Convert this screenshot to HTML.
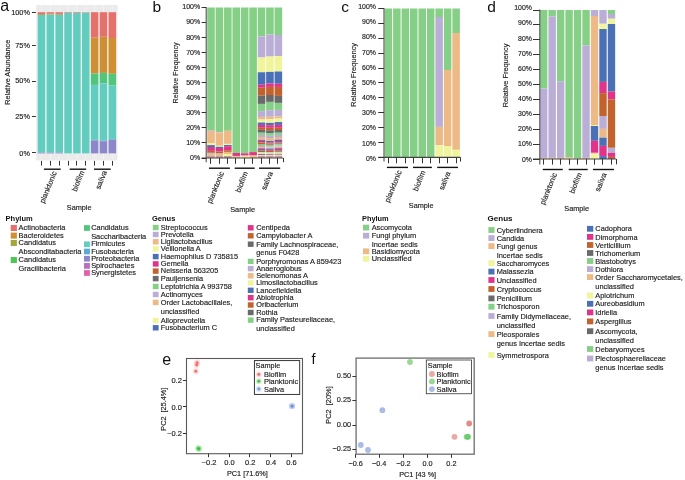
<!DOCTYPE html>
<html><head><meta charset="utf-8"><style>
html,body{margin:0;padding:0;background:#fff;width:685px;height:480px;overflow:hidden}
svg{display:block;filter:blur(0.3px)}
text{font-family:"Liberation Sans", sans-serif;stroke:#222;stroke-width:0.15px} text[font-weight="bold"]{stroke:none}
</style></head><body>
<svg width="685" height="480" viewBox="0 0 685 480">
<rect x="0" y="0" width="685" height="480" fill="#fff"/>
<text x="0.30" y="10.90" font-size="16" text-anchor="start" fill="#111" font-weight="normal" style="stroke:none">a</text>
<rect x="36.25" y="5.00" width="81.25" height="155.40" fill="#EBEBEB" />
<line x1="41.50" y1="5.00" x2="41.50" y2="160.40" stroke="#F8F8F8" stroke-width="0.6"/>
<line x1="50.35" y1="5.00" x2="50.35" y2="160.40" stroke="#F8F8F8" stroke-width="0.6"/>
<line x1="59.20" y1="5.00" x2="59.20" y2="160.40" stroke="#F8F8F8" stroke-width="0.6"/>
<line x1="68.05" y1="5.00" x2="68.05" y2="160.40" stroke="#F8F8F8" stroke-width="0.6"/>
<line x1="76.90" y1="5.00" x2="76.90" y2="160.40" stroke="#F8F8F8" stroke-width="0.6"/>
<line x1="85.75" y1="5.00" x2="85.75" y2="160.40" stroke="#F8F8F8" stroke-width="0.6"/>
<line x1="94.60" y1="5.00" x2="94.60" y2="160.40" stroke="#F8F8F8" stroke-width="0.6"/>
<line x1="103.45" y1="5.00" x2="103.45" y2="160.40" stroke="#F8F8F8" stroke-width="0.6"/>
<line x1="112.30" y1="5.00" x2="112.30" y2="160.40" stroke="#F8F8F8" stroke-width="0.6"/>
<rect x="37.70" y="12.20" width="78.40" height="141.20" fill="#F4FAF9" />
<rect x="37.70" y="12.20" width="7.60" height="1.80" fill="#E5716C" />
<rect x="37.70" y="14.00" width="7.60" height="0.90" fill="#CF8F33" />
<rect x="37.70" y="14.90" width="7.60" height="137.70" fill="#62CCBF" />
<rect x="37.70" y="152.60" width="7.60" height="0.80" fill="#8C87C9" />
<rect x="46.55" y="12.20" width="7.60" height="1.60" fill="#E5716C" />
<rect x="46.55" y="13.80" width="7.60" height="0.80" fill="#CF8F33" />
<rect x="46.55" y="14.60" width="7.60" height="138.00" fill="#62CCBF" />
<rect x="46.55" y="152.60" width="7.60" height="0.80" fill="#8C87C9" />
<rect x="55.40" y="12.20" width="7.60" height="1.70" fill="#E5716C" />
<rect x="55.40" y="13.90" width="7.60" height="0.90" fill="#CF8F33" />
<rect x="55.40" y="14.80" width="7.60" height="137.80" fill="#62CCBF" />
<rect x="55.40" y="152.60" width="7.60" height="0.80" fill="#8C87C9" />
<rect x="64.25" y="12.20" width="7.60" height="0.70" fill="#E5716C" />
<rect x="64.25" y="12.90" width="7.60" height="140.50" fill="#62CCBF" />
<rect x="73.10" y="12.20" width="7.60" height="0.70" fill="#E5716C" />
<rect x="73.10" y="12.90" width="7.60" height="140.50" fill="#62CCBF" />
<rect x="81.95" y="12.20" width="7.60" height="0.50" fill="#E5716C" />
<rect x="81.95" y="12.70" width="7.60" height="140.70" fill="#62CCBF" />
<rect x="90.80" y="12.20" width="7.60" height="25.50" fill="#E5716C" />
<rect x="90.80" y="37.70" width="7.60" height="35.80" fill="#CF8F33" />
<rect x="90.80" y="73.50" width="7.60" height="11.40" fill="#52C47C" />
<rect x="90.80" y="84.90" width="7.60" height="54.90" fill="#62CCBF" />
<rect x="90.80" y="139.80" width="7.60" height="0.60" fill="#5AAAD2" />
<rect x="90.80" y="140.40" width="7.60" height="13.00" fill="#8C87C9" />
<rect x="99.65" y="12.20" width="7.60" height="24.60" fill="#E5716C" />
<rect x="99.65" y="36.80" width="7.60" height="36.10" fill="#CF8F33" />
<rect x="99.65" y="72.90" width="7.60" height="10.40" fill="#52C47C" />
<rect x="99.65" y="83.30" width="7.60" height="57.30" fill="#62CCBF" />
<rect x="99.65" y="140.60" width="7.60" height="0.60" fill="#5AAAD2" />
<rect x="99.65" y="141.20" width="7.60" height="12.20" fill="#8C87C9" />
<rect x="108.50" y="12.20" width="7.60" height="25.80" fill="#E5716C" />
<rect x="108.50" y="38.00" width="7.60" height="35.80" fill="#CF8F33" />
<rect x="108.50" y="73.80" width="7.60" height="11.80" fill="#52C47C" />
<rect x="108.50" y="85.60" width="7.60" height="53.60" fill="#62CCBF" />
<rect x="108.50" y="139.20" width="7.60" height="0.60" fill="#5AAAD2" />
<rect x="108.50" y="139.80" width="7.60" height="13.60" fill="#8C87C9" />
<line x1="32.00" y1="12.50" x2="35.90" y2="12.50" stroke="#333333" stroke-width="1.0"/>
<text x="29.90" y="14.90" font-size="7.3" text-anchor="end" fill="#222" font-weight="normal" >100%</text>
<line x1="32.00" y1="45.50" x2="35.90" y2="45.50" stroke="#333333" stroke-width="1.0"/>
<text x="29.90" y="47.60" font-size="7.3" text-anchor="end" fill="#222" font-weight="normal" >75%</text>
<line x1="32.00" y1="81.50" x2="35.90" y2="81.50" stroke="#333333" stroke-width="1.0"/>
<text x="29.90" y="83.40" font-size="7.3" text-anchor="end" fill="#222" font-weight="normal" >50%</text>
<line x1="32.00" y1="116.50" x2="35.90" y2="116.50" stroke="#333333" stroke-width="1.0"/>
<text x="29.90" y="118.90" font-size="7.3" text-anchor="end" fill="#222" font-weight="normal" >25%</text>
<line x1="32.00" y1="152.50" x2="35.90" y2="152.50" stroke="#333333" stroke-width="1.0"/>
<text x="29.90" y="156.10" font-size="7.3" text-anchor="end" fill="#222" font-weight="normal" >0%</text>
<line x1="41.50" y1="160.90" x2="41.50" y2="165.60" stroke="#333333" stroke-width="1.0"/>
<line x1="50.50" y1="160.90" x2="50.50" y2="165.60" stroke="#333333" stroke-width="1.0"/>
<line x1="59.50" y1="160.90" x2="59.50" y2="165.60" stroke="#333333" stroke-width="1.0"/>
<line x1="68.50" y1="160.90" x2="68.50" y2="165.60" stroke="#333333" stroke-width="1.0"/>
<line x1="76.50" y1="160.90" x2="76.50" y2="165.60" stroke="#333333" stroke-width="1.0"/>
<line x1="85.50" y1="160.90" x2="85.50" y2="165.60" stroke="#333333" stroke-width="1.0"/>
<line x1="94.50" y1="160.90" x2="94.50" y2="165.60" stroke="#333333" stroke-width="1.0"/>
<line x1="103.50" y1="160.90" x2="103.50" y2="165.60" stroke="#333333" stroke-width="1.0"/>
<line x1="112.50" y1="160.90" x2="112.50" y2="165.60" stroke="#333333" stroke-width="1.0"/>
<text transform="translate(10.00,72.20) rotate(-90)" font-size="7.3" text-anchor="middle" fill="#1a1a1a">Relative Abundance</text>
<line x1="43.90" y1="169.20" x2="60.70" y2="169.20" stroke="#111" stroke-width="1.4"/>
<line x1="69.70" y1="169.20" x2="86.20" y2="169.20" stroke="#111" stroke-width="1.4"/>
<line x1="94.00" y1="169.20" x2="110.70" y2="169.20" stroke="#111" stroke-width="1.4"/>
<text transform="translate(56.80,172.50) rotate(-68)" font-size="7.5" text-anchor="end" fill="#1a1a1a">planktonic</text>
<text transform="translate(84.50,171.90) rotate(-68)" font-size="7.5" text-anchor="end" fill="#1a1a1a">biofilm</text>
<text transform="translate(107.10,171.90) rotate(-68)" font-size="7.5" text-anchor="end" fill="#1a1a1a">saliva</text>
<text x="79.20" y="210.30" font-size="7.3" text-anchor="middle" fill="#1a1a1a" font-weight="normal" >Sample</text>
<text x="5.60" y="220.90" font-size="7.5" text-anchor="start" fill="#111" font-weight="bold" >Phylum</text>
<rect x="10.70" y="225.00" width="6.20" height="6.00" fill="#E5716C" />
<text x="18.60" y="230.00" font-size="7.4" text-anchor="start" fill="#1a1a1a" font-weight="normal" >Actinobacteria</text>
<rect x="10.70" y="232.60" width="6.20" height="6.00" fill="#CF8F33" />
<text x="18.60" y="237.60" font-size="7.4" text-anchor="start" fill="#1a1a1a" font-weight="normal" >Bacteroidetes</text>
<rect x="10.70" y="240.00" width="6.20" height="6.00" fill="#A4A83C" />
<text x="18.60" y="245.00" font-size="7.4" text-anchor="start" fill="#1a1a1a" font-weight="normal" >Candidatus</text>
<text x="18.60" y="253.90" font-size="7.4" text-anchor="start" fill="#1a1a1a" font-weight="normal" >Absconditabacteria</text>
<rect x="10.70" y="257.00" width="6.20" height="6.00" fill="#4FC656" />
<text x="18.60" y="262.00" font-size="7.4" text-anchor="start" fill="#1a1a1a" font-weight="normal" >Candidatus</text>
<text x="18.60" y="270.90" font-size="7.4" text-anchor="start" fill="#1a1a1a" font-weight="normal" >Gracilibacteria</text>
<rect x="84.00" y="225.15" width="5.90" height="5.70" fill="#52C47C" />
<text x="91.20" y="230.00" font-size="7.4" text-anchor="start" fill="#1a1a1a" font-weight="normal" >Candidatus</text>
<text x="91.20" y="238.60" font-size="7.4" text-anchor="start" fill="#1a1a1a" font-weight="normal" >Saccharibacteria</text>
<rect x="84.00" y="241.45" width="5.90" height="5.70" fill="#62CCBF" />
<text x="91.20" y="246.30" font-size="7.4" text-anchor="start" fill="#1a1a1a" font-weight="normal" >Firmicutes</text>
<rect x="84.00" y="248.65" width="5.90" height="5.70" fill="#5AAAD2" />
<text x="91.20" y="253.50" font-size="7.4" text-anchor="start" fill="#1a1a1a" font-weight="normal" >Fusobacteria</text>
<rect x="84.00" y="255.85" width="5.90" height="5.70" fill="#8C87C9" />
<text x="91.20" y="260.70" font-size="7.4" text-anchor="start" fill="#1a1a1a" font-weight="normal" >Proteobacteria</text>
<rect x="84.00" y="263.05" width="5.90" height="5.70" fill="#B86FC2" />
<text x="91.20" y="267.90" font-size="7.4" text-anchor="start" fill="#1a1a1a" font-weight="normal" >Spirochaetes</text>
<rect x="84.00" y="270.15" width="5.90" height="5.70" fill="#E262AA" />
<text x="91.20" y="275.00" font-size="7.4" text-anchor="start" fill="#1a1a1a" font-weight="normal" >Synergistetes</text>
<text x="152.40" y="11.80" font-size="15.5" text-anchor="start" fill="#111" font-weight="normal" style="stroke:none">b</text>
<rect x="207.20" y="7.50" width="7.60" height="122.80" fill="#86CF86" />
<rect x="207.20" y="130.30" width="7.60" height="0.70" fill="#BBAED6" />
<rect x="207.20" y="131.00" width="7.60" height="12.00" fill="#EDBA86" />
<rect x="207.20" y="143.00" width="7.60" height="2.10" fill="#F0F59C" />
<rect x="207.20" y="145.10" width="7.60" height="1.90" fill="#4A71B5" />
<rect x="207.20" y="147.00" width="7.60" height="3.90" fill="#E2338A" />
<rect x="207.20" y="150.90" width="7.60" height="1.70" fill="#C2622C" />
<rect x="207.20" y="152.60" width="7.60" height="0.80" fill="#6A6A6A" />
<rect x="207.20" y="153.40" width="7.60" height="2.20" fill="#EDBA86" />
<rect x="207.20" y="155.60" width="7.60" height="2.40" fill="#C79A9A" />
<rect x="215.62" y="7.50" width="7.60" height="124.50" fill="#86CF86" />
<rect x="215.62" y="132.00" width="7.60" height="0.50" fill="#BBAED6" />
<rect x="215.62" y="132.50" width="7.60" height="13.30" fill="#EDBA86" />
<rect x="215.62" y="145.80" width="7.60" height="1.00" fill="#F0F59C" />
<rect x="215.62" y="146.80" width="7.60" height="1.20" fill="#4A71B5" />
<rect x="215.62" y="148.00" width="7.60" height="3.40" fill="#E2338A" />
<rect x="215.62" y="151.40" width="7.60" height="1.60" fill="#C2622C" />
<rect x="215.62" y="153.00" width="7.60" height="0.50" fill="#6A6A6A" />
<rect x="215.62" y="153.50" width="7.60" height="2.10" fill="#EDBA86" />
<rect x="215.62" y="155.60" width="7.60" height="2.40" fill="#C79A9A" />
<rect x="224.04" y="7.50" width="7.60" height="123.30" fill="#86CF86" />
<rect x="224.04" y="130.80" width="7.60" height="13.10" fill="#EDBA86" />
<rect x="224.04" y="143.90" width="7.60" height="1.10" fill="#F0F59C" />
<rect x="224.04" y="145.00" width="7.60" height="1.20" fill="#4A71B5" />
<rect x="224.04" y="146.20" width="7.60" height="4.00" fill="#E2338A" />
<rect x="224.04" y="150.20" width="7.60" height="1.70" fill="#C2622C" />
<rect x="224.04" y="151.90" width="7.60" height="2.10" fill="#EDBA86" />
<rect x="224.04" y="154.00" width="7.60" height="2.00" fill="#F0F59C" />
<rect x="224.04" y="156.00" width="7.60" height="2.00" fill="#C79A9A" />
<rect x="232.46" y="7.50" width="7.60" height="145.50" fill="#86CF86" />
<rect x="232.46" y="153.00" width="7.60" height="2.90" fill="#E2338A" />
<rect x="232.46" y="155.90" width="7.60" height="0.50" fill="#C2622C" />
<rect x="232.46" y="156.40" width="7.60" height="1.60" fill="#EDBA86" />
<rect x="240.88" y="7.50" width="7.60" height="145.80" fill="#86CF86" />
<rect x="240.88" y="153.30" width="7.60" height="2.30" fill="#E2338A" />
<rect x="240.88" y="155.60" width="7.60" height="2.40" fill="#F2DC9A" />
<rect x="249.30" y="7.50" width="7.60" height="144.60" fill="#86CF86" />
<rect x="249.30" y="152.10" width="7.60" height="2.90" fill="#E2338A" />
<rect x="249.30" y="155.00" width="7.60" height="0.50" fill="#C2622C" />
<rect x="249.30" y="155.50" width="7.60" height="2.50" fill="#EDBA86" />
<rect x="257.72" y="7.50" width="7.60" height="28.90" fill="#86CF86" />
<rect x="257.72" y="36.40" width="7.60" height="21.10" fill="#BBAED6" />
<rect x="257.72" y="57.50" width="7.60" height="0.10" fill="#EDBA86" />
<rect x="257.72" y="57.60" width="7.60" height="14.65" fill="#F0F59C" />
<rect x="257.72" y="72.25" width="7.60" height="12.50" fill="#4A71B5" />
<rect x="257.72" y="84.75" width="7.60" height="3.00" fill="#E2338A" />
<rect x="257.72" y="87.75" width="7.60" height="7.85" fill="#C2622C" />
<rect x="257.72" y="95.60" width="7.60" height="8.30" fill="#6A6A6A" />
<rect x="257.72" y="103.90" width="7.60" height="7.20" fill="#86CF86" />
<rect x="257.72" y="111.10" width="7.60" height="5.80" fill="#BBAED6" />
<rect x="257.72" y="116.90" width="7.60" height="2.70" fill="#EDBA86" />
<rect x="257.72" y="119.60" width="7.60" height="2.90" fill="#F0F59C" />
<rect x="257.72" y="122.50" width="7.60" height="2.40" fill="#4A71B5" />
<rect x="257.72" y="124.90" width="7.60" height="2.90" fill="#E2338A" />
<rect x="257.72" y="127.80" width="7.60" height="2.10" fill="#C2622C" />
<rect x="257.72" y="129.90" width="7.60" height="2.80" fill="#6A6A6A" />
<rect x="257.72" y="132.70" width="7.60" height="2.20" fill="#86CF86" />
<rect x="257.72" y="134.90" width="7.60" height="2.10" fill="#BBAED6" />
<rect x="257.72" y="137.00" width="7.60" height="2.50" fill="#EDBA86" />
<rect x="257.72" y="139.50" width="7.60" height="0.20" fill="#F0F59C" />
<rect x="257.72" y="139.70" width="7.60" height="1.20" fill="#4A71B5" />
<rect x="257.72" y="140.90" width="7.60" height="1.40" fill="#E2338A" />
<rect x="257.72" y="142.30" width="7.60" height="1.90" fill="#C2622C" />
<rect x="257.72" y="144.20" width="7.60" height="0.50" fill="#6A6A6A" />
<rect x="257.72" y="144.70" width="7.60" height="1.30" fill="#86CF86" />
<rect x="257.72" y="146.00" width="7.60" height="1.00" fill="#BBAED6" />
<rect x="257.72" y="147.00" width="7.60" height="1.30" fill="#EDBA86" />
<rect x="257.72" y="148.30" width="7.60" height="0.70" fill="#4A71B5" />
<rect x="257.72" y="149.00" width="7.60" height="1.30" fill="#E2338A" />
<rect x="257.72" y="150.30" width="7.60" height="0.70" fill="#C2622C" />
<rect x="257.72" y="151.00" width="7.60" height="1.00" fill="#5F7F5F" />
<rect x="257.72" y="152.00" width="7.60" height="1.30" fill="#D9DDB4" />
<rect x="257.72" y="153.30" width="7.60" height="0.70" fill="#E4DDB8" />
<rect x="257.72" y="154.00" width="7.60" height="1.00" fill="#9C6A92" />
<rect x="257.72" y="155.00" width="7.60" height="1.00" fill="#E4DDB8" />
<rect x="257.72" y="156.00" width="7.60" height="2.00" fill="#C59C9A" />
<rect x="266.14" y="7.50" width="7.60" height="27.00" fill="#86CF86" />
<rect x="266.14" y="34.50" width="7.60" height="22.00" fill="#BBAED6" />
<rect x="266.14" y="56.50" width="7.60" height="0.10" fill="#EDBA86" />
<rect x="266.14" y="56.60" width="7.60" height="15.30" fill="#F0F59C" />
<rect x="266.14" y="71.90" width="7.60" height="11.60" fill="#4A71B5" />
<rect x="266.14" y="83.50" width="7.60" height="3.40" fill="#E2338A" />
<rect x="266.14" y="86.90" width="7.60" height="8.10" fill="#C2622C" />
<rect x="266.14" y="95.00" width="7.60" height="6.90" fill="#6A6A6A" />
<rect x="266.14" y="101.90" width="7.60" height="8.30" fill="#86CF86" />
<rect x="266.14" y="110.20" width="7.60" height="6.55" fill="#BBAED6" />
<rect x="266.14" y="116.75" width="7.60" height="2.50" fill="#EDBA86" />
<rect x="266.14" y="119.25" width="7.60" height="3.65" fill="#F0F59C" />
<rect x="266.14" y="122.90" width="7.60" height="2.30" fill="#4A71B5" />
<rect x="266.14" y="125.20" width="7.60" height="2.60" fill="#E2338A" />
<rect x="266.14" y="127.80" width="7.60" height="2.40" fill="#C2622C" />
<rect x="266.14" y="130.20" width="7.60" height="2.90" fill="#6A6A6A" />
<rect x="266.14" y="133.10" width="7.60" height="2.70" fill="#86CF86" />
<rect x="266.14" y="135.80" width="7.60" height="2.20" fill="#BBAED6" />
<rect x="266.14" y="138.00" width="7.60" height="3.00" fill="#EDBA86" />
<rect x="266.14" y="141.00" width="7.60" height="1.50" fill="#4A71B5" />
<rect x="266.14" y="142.50" width="7.60" height="1.00" fill="#E2338A" />
<rect x="266.14" y="143.50" width="7.60" height="1.10" fill="#C2622C" />
<rect x="266.14" y="144.60" width="7.60" height="0.40" fill="#6A6A6A" />
<rect x="266.14" y="145.00" width="7.60" height="1.50" fill="#86CF86" />
<rect x="266.14" y="146.50" width="7.60" height="1.00" fill="#BBAED6" />
<rect x="266.14" y="147.50" width="7.60" height="1.00" fill="#EDBA86" />
<rect x="266.14" y="148.50" width="7.60" height="1.30" fill="#4A71B5" />
<rect x="266.14" y="149.80" width="7.60" height="1.00" fill="#E2338A" />
<rect x="266.14" y="150.80" width="7.60" height="1.20" fill="#C2622C" />
<rect x="266.14" y="152.00" width="7.60" height="0.40" fill="#5F7F5F" />
<rect x="266.14" y="152.40" width="7.60" height="1.40" fill="#D9DDB4" />
<rect x="266.14" y="153.80" width="7.60" height="0.40" fill="#E4DDB8" />
<rect x="266.14" y="154.20" width="7.60" height="0.80" fill="#9C6A92" />
<rect x="266.14" y="155.00" width="7.60" height="1.00" fill="#E4DDB8" />
<rect x="266.14" y="156.00" width="7.60" height="2.00" fill="#C59C9A" />
<rect x="274.56" y="7.50" width="7.60" height="27.50" fill="#86CF86" />
<rect x="274.56" y="35.00" width="7.60" height="21.00" fill="#BBAED6" />
<rect x="274.56" y="56.00" width="7.60" height="0.10" fill="#EDBA86" />
<rect x="274.56" y="56.10" width="7.60" height="15.40" fill="#F0F59C" />
<rect x="274.56" y="71.50" width="7.60" height="12.25" fill="#4A71B5" />
<rect x="274.56" y="83.75" width="7.60" height="3.15" fill="#E2338A" />
<rect x="274.56" y="86.90" width="7.60" height="9.00" fill="#C2622C" />
<rect x="274.56" y="95.90" width="7.60" height="7.00" fill="#6A6A6A" />
<rect x="274.56" y="102.90" width="7.60" height="7.00" fill="#86CF86" />
<rect x="274.56" y="109.90" width="7.60" height="6.50" fill="#BBAED6" />
<rect x="274.56" y="116.40" width="7.60" height="2.20" fill="#EDBA86" />
<rect x="274.56" y="118.60" width="7.60" height="3.50" fill="#F0F59C" />
<rect x="274.56" y="122.10" width="7.60" height="2.80" fill="#4A71B5" />
<rect x="274.56" y="124.90" width="7.60" height="2.90" fill="#E2338A" />
<rect x="274.56" y="127.80" width="7.60" height="2.20" fill="#C2622C" />
<rect x="274.56" y="130.00" width="7.60" height="2.70" fill="#6A6A6A" />
<rect x="274.56" y="132.70" width="7.60" height="2.20" fill="#86CF86" />
<rect x="274.56" y="134.90" width="7.60" height="2.10" fill="#BBAED6" />
<rect x="274.56" y="137.00" width="7.60" height="2.50" fill="#EDBA86" />
<rect x="274.56" y="139.50" width="7.60" height="0.10" fill="#F0F59C" />
<rect x="274.56" y="139.60" width="7.60" height="1.40" fill="#4A71B5" />
<rect x="274.56" y="141.00" width="7.60" height="1.50" fill="#E2338A" />
<rect x="274.56" y="142.50" width="7.60" height="1.00" fill="#C2622C" />
<rect x="274.56" y="143.50" width="7.60" height="0.70" fill="#6A6A6A" />
<rect x="274.56" y="144.20" width="7.60" height="1.30" fill="#86CF86" />
<rect x="274.56" y="145.50" width="7.60" height="1.00" fill="#BBAED6" />
<rect x="274.56" y="146.50" width="7.60" height="1.30" fill="#EDBA86" />
<rect x="274.56" y="147.80" width="7.60" height="0.90" fill="#4A71B5" />
<rect x="274.56" y="148.70" width="7.60" height="1.60" fill="#E2338A" />
<rect x="274.56" y="150.30" width="7.60" height="1.00" fill="#C2622C" />
<rect x="274.56" y="151.30" width="7.60" height="0.70" fill="#5F7F5F" />
<rect x="274.56" y="152.00" width="7.60" height="2.00" fill="#D9DDB4" />
<rect x="274.56" y="154.00" width="7.60" height="0.30" fill="#E4DDB8" />
<rect x="274.56" y="154.30" width="7.60" height="0.70" fill="#9C6A92" />
<rect x="274.56" y="155.00" width="7.60" height="1.00" fill="#E4DDB8" />
<rect x="274.56" y="156.00" width="7.60" height="2.00" fill="#C59C9A" />
<line x1="206.20" y1="7.10" x2="206.20" y2="162.20" stroke="#505050" stroke-width="1.1"/>
<line x1="201.60" y1="158.00" x2="283.20" y2="158.00" stroke="#444" stroke-width="1.1"/>
<line x1="283.50" y1="158.00" x2="283.50" y2="162.20" stroke="#333333" stroke-width="1.0"/>
<line x1="201.60" y1="158.50" x2="206.20" y2="158.50" stroke="#333333" stroke-width="1.0"/>
<text x="200.20" y="159.90" font-size="7.0" text-anchor="end" fill="#222" font-weight="normal" >0%</text>
<line x1="201.60" y1="142.50" x2="206.20" y2="142.50" stroke="#333333" stroke-width="1.0"/>
<text x="200.20" y="144.85" font-size="7.0" text-anchor="end" fill="#222" font-weight="normal" >10%</text>
<line x1="201.60" y1="127.50" x2="206.20" y2="127.50" stroke="#333333" stroke-width="1.0"/>
<text x="200.20" y="129.80" font-size="7.0" text-anchor="end" fill="#222" font-weight="normal" >20%</text>
<line x1="201.60" y1="112.50" x2="206.20" y2="112.50" stroke="#333333" stroke-width="1.0"/>
<text x="200.20" y="114.75" font-size="7.0" text-anchor="end" fill="#222" font-weight="normal" >30%</text>
<line x1="201.60" y1="97.50" x2="206.20" y2="97.50" stroke="#333333" stroke-width="1.0"/>
<text x="200.20" y="99.70" font-size="7.0" text-anchor="end" fill="#222" font-weight="normal" >40%</text>
<line x1="201.60" y1="82.50" x2="206.20" y2="82.50" stroke="#333333" stroke-width="1.0"/>
<text x="200.20" y="84.65" font-size="7.0" text-anchor="end" fill="#222" font-weight="normal" >50%</text>
<line x1="201.60" y1="67.50" x2="206.20" y2="67.50" stroke="#333333" stroke-width="1.0"/>
<text x="200.20" y="69.60" font-size="7.0" text-anchor="end" fill="#222" font-weight="normal" >60%</text>
<line x1="201.60" y1="52.50" x2="206.20" y2="52.50" stroke="#333333" stroke-width="1.0"/>
<text x="200.20" y="54.55" font-size="7.0" text-anchor="end" fill="#222" font-weight="normal" >70%</text>
<line x1="201.60" y1="37.50" x2="206.20" y2="37.50" stroke="#333333" stroke-width="1.0"/>
<text x="200.20" y="39.50" font-size="7.0" text-anchor="end" fill="#222" font-weight="normal" >80%</text>
<line x1="201.60" y1="22.50" x2="206.20" y2="22.50" stroke="#333333" stroke-width="1.0"/>
<text x="200.20" y="24.45" font-size="7.0" text-anchor="end" fill="#222" font-weight="normal" >90%</text>
<line x1="201.60" y1="7.50" x2="206.20" y2="7.50" stroke="#333333" stroke-width="1.0"/>
<text x="200.20" y="9.40" font-size="7.0" text-anchor="end" fill="#222" font-weight="normal" >100%</text>
<line x1="210.50" y1="158.00" x2="210.50" y2="163.80" stroke="#333333" stroke-width="1.0"/>
<line x1="219.50" y1="158.00" x2="219.50" y2="163.80" stroke="#333333" stroke-width="1.0"/>
<line x1="227.50" y1="158.00" x2="227.50" y2="163.80" stroke="#333333" stroke-width="1.0"/>
<line x1="235.50" y1="158.00" x2="235.50" y2="163.80" stroke="#333333" stroke-width="1.0"/>
<line x1="244.50" y1="158.00" x2="244.50" y2="163.80" stroke="#333333" stroke-width="1.0"/>
<line x1="252.50" y1="158.00" x2="252.50" y2="163.80" stroke="#333333" stroke-width="1.0"/>
<line x1="261.50" y1="158.00" x2="261.50" y2="163.80" stroke="#333333" stroke-width="1.0"/>
<line x1="269.50" y1="158.00" x2="269.50" y2="163.80" stroke="#333333" stroke-width="1.0"/>
<line x1="277.50" y1="158.00" x2="277.50" y2="163.80" stroke="#333333" stroke-width="1.0"/>
<text transform="translate(177.50,72.90) rotate(-90)" font-size="7.1" text-anchor="middle" fill="#1a1a1a">Relative Frequency</text>
<line x1="209.00" y1="168.20" x2="229.90" y2="168.20" stroke="#111" stroke-width="1.4"/>
<line x1="234.70" y1="168.20" x2="254.70" y2="168.20" stroke="#111" stroke-width="1.4"/>
<line x1="259.00" y1="168.20" x2="280.20" y2="168.20" stroke="#111" stroke-width="1.4"/>
<text transform="translate(224.20,172.80) rotate(-68)" font-size="7.5" text-anchor="end" fill="#1a1a1a">planktonic</text>
<text transform="translate(248.20,172.80) rotate(-68)" font-size="7.5" text-anchor="end" fill="#1a1a1a">biofilm</text>
<text transform="translate(273.00,172.80) rotate(-68)" font-size="7.5" text-anchor="end" fill="#1a1a1a">saliva</text>
<text x="242.60" y="211.60" font-size="7.3" text-anchor="middle" fill="#1a1a1a" font-weight="normal" >Sample</text>
<text x="152.00" y="221.30" font-size="7.5" text-anchor="start" fill="#111" font-weight="bold" >Genus</text>
<rect x="152.80" y="224.80" width="5.80" height="5.40" fill="#86CF86" />
<text x="160.80" y="229.80" font-size="7.4" text-anchor="start" fill="#1a1a1a" font-weight="normal" >Streptococcus</text>
<rect x="152.80" y="231.80" width="5.80" height="5.40" fill="#BBAED6" />
<text x="160.80" y="236.80" font-size="7.4" text-anchor="start" fill="#1a1a1a" font-weight="normal" >Prevotella</text>
<rect x="152.80" y="239.05" width="5.80" height="5.40" fill="#EDBA86" />
<text x="160.80" y="244.05" font-size="7.4" text-anchor="start" fill="#1a1a1a" font-weight="normal" >Ligilactobacillus</text>
<rect x="152.80" y="246.20" width="5.80" height="5.40" fill="#F0F59C" />
<text x="160.80" y="251.20" font-size="7.4" text-anchor="start" fill="#1a1a1a" font-weight="normal" >Veillonella A</text>
<rect x="152.80" y="253.90" width="5.80" height="5.40" fill="#4A71B5" />
<text x="160.80" y="258.90" font-size="7.4" text-anchor="start" fill="#1a1a1a" font-weight="normal" >Haemophilus D 735815</text>
<rect x="152.80" y="261.20" width="5.80" height="5.40" fill="#E2338A" />
<text x="160.80" y="266.20" font-size="7.4" text-anchor="start" fill="#1a1a1a" font-weight="normal" >Gemella</text>
<rect x="152.80" y="268.40" width="5.80" height="5.40" fill="#C2622C" />
<text x="160.80" y="273.40" font-size="7.4" text-anchor="start" fill="#1a1a1a" font-weight="normal" >Neisseria 563205</text>
<rect x="152.80" y="275.90" width="5.80" height="5.40" fill="#6A6A6A" />
<text x="160.80" y="280.90" font-size="7.4" text-anchor="start" fill="#1a1a1a" font-weight="normal" >Pauljensenia</text>
<rect x="152.80" y="283.80" width="5.80" height="5.40" fill="#86CF86" />
<text x="160.80" y="288.80" font-size="7.4" text-anchor="start" fill="#1a1a1a" font-weight="normal" >Leptotrichia A 993758</text>
<rect x="152.80" y="291.80" width="5.80" height="5.40" fill="#BBAED6" />
<text x="160.80" y="296.80" font-size="7.4" text-anchor="start" fill="#1a1a1a" font-weight="normal" >Actinomyces</text>
<rect x="152.80" y="299.70" width="5.80" height="5.40" fill="#EDBA86" />
<text x="160.80" y="304.70" font-size="7.4" text-anchor="start" fill="#1a1a1a" font-weight="normal" >Order Lactobacillales,</text>
<text x="160.80" y="313.50" font-size="7.4" text-anchor="start" fill="#1a1a1a" font-weight="normal" >unclassified</text>
<rect x="152.80" y="317.80" width="5.80" height="5.40" fill="#F0F59C" />
<text x="160.80" y="322.80" font-size="7.4" text-anchor="start" fill="#1a1a1a" font-weight="normal" >Alloprevotella</text>
<rect x="152.80" y="325.10" width="5.80" height="5.40" fill="#4A71B5" />
<text x="160.80" y="330.10" font-size="7.4" text-anchor="start" fill="#1a1a1a" font-weight="normal" >Fusobacterium C</text>
<rect x="247.80" y="225.10" width="5.80" height="5.40" fill="#E2338A" />
<text x="256.20" y="230.10" font-size="7.4" text-anchor="start" fill="#1a1a1a" font-weight="normal" >Centipeda</text>
<rect x="247.80" y="233.10" width="5.80" height="5.40" fill="#C2622C" />
<text x="256.20" y="238.10" font-size="7.4" text-anchor="start" fill="#1a1a1a" font-weight="normal" >Campylobacter A</text>
<rect x="247.80" y="241.50" width="5.80" height="5.40" fill="#6A6A6A" />
<text x="256.20" y="246.50" font-size="7.4" text-anchor="start" fill="#1a1a1a" font-weight="normal" >Family Lachnospiraceae,</text>
<text x="256.20" y="255.40" font-size="7.4" text-anchor="start" fill="#1a1a1a" font-weight="normal" >genus F0428</text>
<rect x="247.80" y="258.70" width="5.80" height="5.40" fill="#86CF86" />
<text x="256.20" y="263.70" font-size="7.4" text-anchor="start" fill="#1a1a1a" font-weight="normal" >Porphyromonas A 859423</text>
<rect x="247.80" y="265.90" width="5.80" height="5.40" fill="#BBAED6" />
<text x="256.20" y="270.90" font-size="7.4" text-anchor="start" fill="#1a1a1a" font-weight="normal" >Anaeroglobus</text>
<rect x="247.80" y="273.10" width="5.80" height="5.40" fill="#EDBA86" />
<text x="256.20" y="278.10" font-size="7.4" text-anchor="start" fill="#1a1a1a" font-weight="normal" >Selenomonas A</text>
<rect x="247.80" y="280.30" width="5.80" height="5.40" fill="#F0F59C" />
<text x="256.20" y="285.30" font-size="7.4" text-anchor="start" fill="#1a1a1a" font-weight="normal" >Limosilactobacillus</text>
<rect x="247.80" y="287.60" width="5.80" height="5.40" fill="#4A71B5" />
<text x="256.20" y="292.60" font-size="7.4" text-anchor="start" fill="#1a1a1a" font-weight="normal" >Lancefieldella</text>
<rect x="247.80" y="295.00" width="5.80" height="5.40" fill="#E2338A" />
<text x="256.20" y="300.00" font-size="7.4" text-anchor="start" fill="#1a1a1a" font-weight="normal" >Abiotrophia</text>
<rect x="247.80" y="302.30" width="5.80" height="5.40" fill="#C2622C" />
<text x="256.20" y="307.30" font-size="7.4" text-anchor="start" fill="#1a1a1a" font-weight="normal" >Oribacterium</text>
<rect x="247.80" y="309.80" width="5.80" height="5.40" fill="#6A6A6A" />
<text x="256.20" y="314.80" font-size="7.4" text-anchor="start" fill="#1a1a1a" font-weight="normal" >Rothia</text>
<rect x="247.80" y="317.40" width="5.80" height="5.40" fill="#86CF86" />
<text x="256.20" y="322.40" font-size="7.4" text-anchor="start" fill="#1a1a1a" font-weight="normal" >Family Pasteurellaceae,</text>
<text x="256.20" y="331.30" font-size="7.4" text-anchor="start" fill="#1a1a1a" font-weight="normal" >unclassified</text>
<text x="341.20" y="11.60" font-size="15.5" text-anchor="start" fill="#111" font-weight="normal" style="stroke:none">c</text>
<rect x="384.60" y="8.50" width="7.50" height="148.90" fill="#86CF86" />
<rect x="393.07" y="8.50" width="7.50" height="148.90" fill="#86CF86" />
<rect x="401.54" y="8.50" width="7.50" height="148.90" fill="#86CF86" />
<rect x="410.01" y="8.50" width="7.50" height="148.90" fill="#86CF86" />
<rect x="418.48" y="8.50" width="7.50" height="148.90" fill="#86CF86" />
<rect x="426.95" y="8.50" width="7.50" height="148.90" fill="#86CF86" />
<rect x="435.42" y="8.50" width="7.50" height="8.50" fill="#86CF86" />
<rect x="435.42" y="17.00" width="7.50" height="109.90" fill="#BBAED6" />
<rect x="435.42" y="126.90" width="7.50" height="18.40" fill="#EDBA86" />
<rect x="435.42" y="145.30" width="7.50" height="12.10" fill="#F0F59C" />
<rect x="443.89" y="8.50" width="7.50" height="61.50" fill="#86CF86" />
<rect x="443.89" y="70.00" width="7.50" height="76.00" fill="#EDBA86" />
<rect x="443.89" y="146.00" width="7.50" height="11.40" fill="#F0F59C" />
<rect x="452.36" y="8.50" width="7.50" height="24.50" fill="#86CF86" />
<rect x="452.36" y="33.00" width="7.50" height="116.80" fill="#EDBA86" />
<rect x="452.36" y="149.80" width="7.50" height="7.60" fill="#F0F59C" />
<line x1="384.00" y1="8.10" x2="384.00" y2="161.60" stroke="#505050" stroke-width="1.1"/>
<line x1="378.20" y1="157.40" x2="460.50" y2="157.40" stroke="#444" stroke-width="1.1"/>
<line x1="460.50" y1="157.40" x2="460.50" y2="161.60" stroke="#333333" stroke-width="1.0"/>
<line x1="378.20" y1="157.50" x2="384.00" y2="157.50" stroke="#333333" stroke-width="1.0"/>
<text x="375.90" y="160.80" font-size="6.9" text-anchor="end" fill="#222" font-weight="normal" >0%</text>
<line x1="378.20" y1="142.50" x2="384.00" y2="142.50" stroke="#333333" stroke-width="1.0"/>
<text x="375.90" y="145.63" font-size="6.9" text-anchor="end" fill="#222" font-weight="normal" >10%</text>
<line x1="378.20" y1="127.50" x2="384.00" y2="127.50" stroke="#333333" stroke-width="1.0"/>
<text x="375.90" y="130.46" font-size="6.9" text-anchor="end" fill="#222" font-weight="normal" >20%</text>
<line x1="378.20" y1="112.50" x2="384.00" y2="112.50" stroke="#333333" stroke-width="1.0"/>
<text x="375.90" y="115.29" font-size="6.9" text-anchor="end" fill="#222" font-weight="normal" >30%</text>
<line x1="378.20" y1="97.50" x2="384.00" y2="97.50" stroke="#333333" stroke-width="1.0"/>
<text x="375.90" y="100.12" font-size="6.9" text-anchor="end" fill="#222" font-weight="normal" >40%</text>
<line x1="378.20" y1="82.50" x2="384.00" y2="82.50" stroke="#333333" stroke-width="1.0"/>
<text x="375.90" y="84.95" font-size="6.9" text-anchor="end" fill="#222" font-weight="normal" >50%</text>
<line x1="378.20" y1="68.50" x2="384.00" y2="68.50" stroke="#333333" stroke-width="1.0"/>
<text x="375.90" y="69.78" font-size="6.9" text-anchor="end" fill="#222" font-weight="normal" >60%</text>
<line x1="378.20" y1="53.50" x2="384.00" y2="53.50" stroke="#333333" stroke-width="1.0"/>
<text x="375.90" y="54.61" font-size="6.9" text-anchor="end" fill="#222" font-weight="normal" >70%</text>
<line x1="378.20" y1="38.50" x2="384.00" y2="38.50" stroke="#333333" stroke-width="1.0"/>
<text x="375.90" y="39.44" font-size="6.9" text-anchor="end" fill="#222" font-weight="normal" >80%</text>
<line x1="378.20" y1="23.50" x2="384.00" y2="23.50" stroke="#333333" stroke-width="1.0"/>
<text x="375.90" y="24.27" font-size="6.9" text-anchor="end" fill="#222" font-weight="normal" >90%</text>
<line x1="378.20" y1="8.50" x2="384.00" y2="8.50" stroke="#333333" stroke-width="1.0"/>
<text x="375.90" y="9.10" font-size="6.9" text-anchor="end" fill="#222" font-weight="normal" >100%</text>
<line x1="388.50" y1="157.40" x2="388.50" y2="163.30" stroke="#333333" stroke-width="1.0"/>
<line x1="396.50" y1="157.40" x2="396.50" y2="163.30" stroke="#333333" stroke-width="1.0"/>
<line x1="405.50" y1="157.40" x2="405.50" y2="163.30" stroke="#333333" stroke-width="1.0"/>
<line x1="413.50" y1="157.40" x2="413.50" y2="163.30" stroke="#333333" stroke-width="1.0"/>
<line x1="422.50" y1="157.40" x2="422.50" y2="163.30" stroke="#333333" stroke-width="1.0"/>
<line x1="430.50" y1="157.40" x2="430.50" y2="163.30" stroke="#333333" stroke-width="1.0"/>
<line x1="439.50" y1="157.40" x2="439.50" y2="163.30" stroke="#333333" stroke-width="1.0"/>
<line x1="447.50" y1="157.40" x2="447.50" y2="163.30" stroke="#333333" stroke-width="1.0"/>
<line x1="456.50" y1="157.40" x2="456.50" y2="163.30" stroke="#333333" stroke-width="1.0"/>
<text transform="translate(355.60,74.80) rotate(-90)" font-size="7.4" text-anchor="middle" fill="#1a1a1a">Relative Frequency</text>
<line x1="386.90" y1="167.40" x2="408.00" y2="167.40" stroke="#111" stroke-width="1.4"/>
<line x1="413.00" y1="167.40" x2="431.90" y2="167.40" stroke="#111" stroke-width="1.4"/>
<line x1="437.20" y1="167.40" x2="458.00" y2="167.40" stroke="#111" stroke-width="1.4"/>
<text transform="translate(401.80,171.60) rotate(-68)" font-size="7.5" text-anchor="end" fill="#1a1a1a">planktonic</text>
<text transform="translate(425.60,171.60) rotate(-68)" font-size="7.5" text-anchor="end" fill="#1a1a1a">biofilm</text>
<text transform="translate(450.60,172.80) rotate(-68)" font-size="7.5" text-anchor="end" fill="#1a1a1a">saliva</text>
<text x="421.20" y="208.00" font-size="7.3" text-anchor="middle" fill="#1a1a1a" font-weight="normal" >Sample</text>
<text x="362.00" y="220.90" font-size="7.4" text-anchor="start" fill="#111" font-weight="bold" >Phylum</text>
<rect x="363.00" y="224.70" width="6.20" height="5.80" fill="#86CF86" />
<text x="371.70" y="229.90" font-size="7.4" text-anchor="start" fill="#1a1a1a" font-weight="normal" >Ascomycota</text>
<rect x="363.00" y="232.80" width="6.20" height="5.80" fill="#BBAED6" />
<text x="371.70" y="238.00" font-size="7.4" text-anchor="start" fill="#1a1a1a" font-weight="normal" >Fungi phylum</text>
<text x="371.70" y="246.50" font-size="7.4" text-anchor="start" fill="#1a1a1a" font-weight="normal" >Incertae sedis</text>
<rect x="363.00" y="248.40" width="6.20" height="5.80" fill="#EDBA86" />
<text x="371.70" y="253.60" font-size="7.4" text-anchor="start" fill="#1a1a1a" font-weight="normal" >Basidiomycota</text>
<rect x="363.00" y="255.85" width="6.20" height="5.80" fill="#F0F59C" />
<text x="371.70" y="261.05" font-size="7.4" text-anchor="start" fill="#1a1a1a" font-weight="normal" >Unclassified</text>
<text x="487.20" y="11.70" font-size="15.5" text-anchor="start" fill="#111" font-weight="normal" style="stroke:none">d</text>
<rect x="540.00" y="10.00" width="7.40" height="78.50" fill="#86CF86" />
<rect x="540.00" y="88.50" width="7.40" height="69.40" fill="#BBAED6" />
<rect x="540.00" y="157.90" width="7.40" height="1.10" fill="#EDBA86" />
<rect x="548.47" y="10.00" width="7.40" height="6.50" fill="#86CF86" />
<rect x="548.47" y="16.50" width="7.40" height="141.40" fill="#BBAED6" />
<rect x="548.47" y="157.90" width="7.40" height="1.10" fill="#EDBA86" />
<rect x="556.94" y="10.00" width="7.40" height="71.20" fill="#86CF86" />
<rect x="556.94" y="81.20" width="7.40" height="76.70" fill="#BBAED6" />
<rect x="556.94" y="157.90" width="7.40" height="1.10" fill="#EDBA86" />
<rect x="565.41" y="10.00" width="7.40" height="147.20" fill="#86CF86" />
<rect x="565.41" y="157.20" width="7.40" height="0.80" fill="#EDBA86" />
<rect x="565.41" y="158.00" width="7.40" height="1.00" fill="#F0F59C" />
<rect x="573.88" y="10.00" width="7.40" height="148.30" fill="#86CF86" />
<rect x="573.88" y="158.30" width="7.40" height="0.70" fill="#EDBA86" />
<rect x="582.35" y="10.00" width="7.40" height="35.50" fill="#86CF86" />
<rect x="582.35" y="45.50" width="7.40" height="112.40" fill="#BBAED6" />
<rect x="582.35" y="157.90" width="7.40" height="1.10" fill="#EDBA86" />
<rect x="590.82" y="10.00" width="7.40" height="6.00" fill="#BBAED6" />
<rect x="590.82" y="16.00" width="7.40" height="109.00" fill="#EDBA86" />
<rect x="590.82" y="125.00" width="7.40" height="1.00" fill="#F0F59C" />
<rect x="590.82" y="126.00" width="7.40" height="14.80" fill="#4A71B5" />
<rect x="590.82" y="140.80" width="7.40" height="12.00" fill="#E2338A" />
<rect x="590.82" y="152.80" width="7.40" height="0.80" fill="#EDBA86" />
<rect x="590.82" y="153.60" width="7.40" height="0.80" fill="#F0C8A0" />
<rect x="590.82" y="154.40" width="7.40" height="4.60" fill="#F0F59C" />
<rect x="599.29" y="10.00" width="7.40" height="13.75" fill="#BBAED6" />
<rect x="599.29" y="23.75" width="7.40" height="5.25" fill="#F0F59C" />
<rect x="599.29" y="29.00" width="7.40" height="52.90" fill="#4A71B5" />
<rect x="599.29" y="81.90" width="7.40" height="11.20" fill="#E2338A" />
<rect x="599.29" y="93.10" width="7.40" height="22.90" fill="#C2622C" />
<rect x="599.29" y="116.00" width="7.40" height="12.90" fill="#BBAED6" />
<rect x="599.29" y="128.90" width="7.40" height="8.70" fill="#EDBA86" />
<rect x="599.29" y="137.60" width="7.40" height="8.30" fill="#4A71B5" />
<rect x="599.29" y="145.90" width="7.40" height="10.20" fill="#E2338A" />
<rect x="599.29" y="156.10" width="7.40" height="2.90" fill="#4A71B5" />
<rect x="607.76" y="10.00" width="7.40" height="4.00" fill="#86CF86" />
<rect x="607.76" y="14.00" width="7.40" height="4.75" fill="#BBAED6" />
<rect x="607.76" y="18.75" width="7.40" height="5.25" fill="#F0F59C" />
<rect x="607.76" y="24.00" width="7.40" height="67.60" fill="#4A71B5" />
<rect x="607.76" y="91.60" width="7.40" height="7.80" fill="#E2338A" />
<rect x="607.76" y="99.40" width="7.40" height="48.40" fill="#C2622C" />
<rect x="607.76" y="147.80" width="7.40" height="5.00" fill="#BBAED6" />
<rect x="607.76" y="152.80" width="7.40" height="4.10" fill="#E2338A" />
<rect x="607.76" y="156.90" width="7.40" height="2.10" fill="#C2622C" />
<line x1="539.80" y1="9.60" x2="539.80" y2="164.40" stroke="#505050" stroke-width="1.1"/>
<line x1="533.00" y1="159.00" x2="616.20" y2="159.00" stroke="#444" stroke-width="1.1"/>
<line x1="616.50" y1="159.00" x2="616.50" y2="164.40" stroke="#333333" stroke-width="1.0"/>
<line x1="533.00" y1="159.50" x2="539.80" y2="159.50" stroke="#333333" stroke-width="1.0"/>
<text x="531.90" y="161.60" font-size="6.9" text-anchor="end" fill="#222" font-weight="normal" >0%</text>
<line x1="533.00" y1="144.50" x2="539.80" y2="144.50" stroke="#333333" stroke-width="1.0"/>
<text x="531.90" y="146.47" font-size="6.9" text-anchor="end" fill="#222" font-weight="normal" >10%</text>
<line x1="533.00" y1="129.50" x2="539.80" y2="129.50" stroke="#333333" stroke-width="1.0"/>
<text x="531.90" y="131.34" font-size="6.9" text-anchor="end" fill="#222" font-weight="normal" >20%</text>
<line x1="533.00" y1="114.50" x2="539.80" y2="114.50" stroke="#333333" stroke-width="1.0"/>
<text x="531.90" y="116.21" font-size="6.9" text-anchor="end" fill="#222" font-weight="normal" >30%</text>
<line x1="533.00" y1="99.50" x2="539.80" y2="99.50" stroke="#333333" stroke-width="1.0"/>
<text x="531.90" y="101.08" font-size="6.9" text-anchor="end" fill="#222" font-weight="normal" >40%</text>
<line x1="533.00" y1="84.50" x2="539.80" y2="84.50" stroke="#333333" stroke-width="1.0"/>
<text x="531.90" y="85.95" font-size="6.9" text-anchor="end" fill="#222" font-weight="normal" >50%</text>
<line x1="533.00" y1="69.50" x2="539.80" y2="69.50" stroke="#333333" stroke-width="1.0"/>
<text x="531.90" y="70.82" font-size="6.9" text-anchor="end" fill="#222" font-weight="normal" >60%</text>
<line x1="533.00" y1="54.50" x2="539.80" y2="54.50" stroke="#333333" stroke-width="1.0"/>
<text x="531.90" y="55.69" font-size="6.9" text-anchor="end" fill="#222" font-weight="normal" >70%</text>
<line x1="533.00" y1="39.50" x2="539.80" y2="39.50" stroke="#333333" stroke-width="1.0"/>
<text x="531.90" y="40.56" font-size="6.9" text-anchor="end" fill="#222" font-weight="normal" >80%</text>
<line x1="533.00" y1="24.50" x2="539.80" y2="24.50" stroke="#333333" stroke-width="1.0"/>
<text x="531.90" y="25.43" font-size="6.9" text-anchor="end" fill="#222" font-weight="normal" >90%</text>
<line x1="533.00" y1="10.50" x2="539.80" y2="10.50" stroke="#333333" stroke-width="1.0"/>
<text x="531.90" y="10.30" font-size="6.9" text-anchor="end" fill="#222" font-weight="normal" >100%</text>
<line x1="543.50" y1="159.00" x2="543.50" y2="164.60" stroke="#333333" stroke-width="1.0"/>
<line x1="552.50" y1="159.00" x2="552.50" y2="164.60" stroke="#333333" stroke-width="1.0"/>
<line x1="560.50" y1="159.00" x2="560.50" y2="164.60" stroke="#333333" stroke-width="1.0"/>
<line x1="569.50" y1="159.00" x2="569.50" y2="164.60" stroke="#333333" stroke-width="1.0"/>
<line x1="577.50" y1="159.00" x2="577.50" y2="164.60" stroke="#333333" stroke-width="1.0"/>
<line x1="586.50" y1="159.00" x2="586.50" y2="164.60" stroke="#333333" stroke-width="1.0"/>
<line x1="594.50" y1="159.00" x2="594.50" y2="164.60" stroke="#333333" stroke-width="1.0"/>
<line x1="602.50" y1="159.00" x2="602.50" y2="164.60" stroke="#333333" stroke-width="1.0"/>
<line x1="611.50" y1="159.00" x2="611.50" y2="164.60" stroke="#333333" stroke-width="1.0"/>
<text transform="translate(508.20,75.50) rotate(-90)" font-size="7.4" text-anchor="middle" fill="#1a1a1a">Relative Frequency</text>
<line x1="542.80" y1="169.50" x2="562.80" y2="169.50" stroke="#111" stroke-width="1.4"/>
<line x1="568.70" y1="169.50" x2="587.70" y2="169.50" stroke="#111" stroke-width="1.4"/>
<line x1="593.00" y1="169.50" x2="614.00" y2="169.50" stroke="#111" stroke-width="1.4"/>
<text transform="translate(557.20,174.00) rotate(-68)" font-size="7.5" text-anchor="end" fill="#1a1a1a">planktonic</text>
<text transform="translate(582.00,174.00) rotate(-68)" font-size="7.5" text-anchor="end" fill="#1a1a1a">biofilm</text>
<text transform="translate(606.80,174.20) rotate(-68)" font-size="7.5" text-anchor="end" fill="#1a1a1a">saliva</text>
<text x="576.70" y="210.80" font-size="7.3" text-anchor="middle" fill="#1a1a1a" font-weight="normal" >Sample</text>
<text x="487.60" y="221.40" font-size="8.0" text-anchor="start" fill="#111" font-weight="bold" >Genus</text>
<rect x="488.40" y="227.10" width="6.10" height="5.80" fill="#86CF86" />
<text x="496.70" y="232.50" font-size="7.4" text-anchor="start" fill="#1a1a1a" font-weight="normal" >Cyberlindnera</text>
<rect x="488.40" y="235.20" width="6.10" height="5.80" fill="#BBAED6" />
<text x="496.70" y="240.60" font-size="7.4" text-anchor="start" fill="#1a1a1a" font-weight="normal" >Candida</text>
<rect x="488.40" y="243.20" width="6.10" height="5.80" fill="#EDBA86" />
<text x="496.70" y="248.60" font-size="7.4" text-anchor="start" fill="#1a1a1a" font-weight="normal" >Fungi genus</text>
<text x="496.70" y="257.60" font-size="7.4" text-anchor="start" fill="#1a1a1a" font-weight="normal" >Incertae sedis</text>
<rect x="488.40" y="260.35" width="6.10" height="5.80" fill="#F0F59C" />
<text x="496.70" y="265.75" font-size="7.4" text-anchor="start" fill="#1a1a1a" font-weight="normal" >Saccharomyces</text>
<rect x="488.40" y="268.70" width="6.10" height="5.80" fill="#4A71B5" />
<text x="496.70" y="274.10" font-size="7.4" text-anchor="start" fill="#1a1a1a" font-weight="normal" >Malassezia</text>
<rect x="488.40" y="277.10" width="6.10" height="5.80" fill="#E2338A" />
<text x="496.70" y="282.50" font-size="7.4" text-anchor="start" fill="#1a1a1a" font-weight="normal" >Unclassified</text>
<rect x="488.40" y="286.10" width="6.10" height="5.80" fill="#C2622C" />
<text x="496.70" y="291.50" font-size="7.4" text-anchor="start" fill="#1a1a1a" font-weight="normal" >Cryptococcus</text>
<rect x="488.40" y="295.50" width="6.10" height="5.80" fill="#6A6A6A" />
<text x="496.70" y="300.90" font-size="7.4" text-anchor="start" fill="#1a1a1a" font-weight="normal" >Penicillium</text>
<rect x="488.40" y="303.80" width="6.10" height="5.80" fill="#86CF86" />
<text x="496.70" y="309.20" font-size="7.4" text-anchor="start" fill="#1a1a1a" font-weight="normal" >Trichosporon</text>
<rect x="488.40" y="313.10" width="6.10" height="5.80" fill="#BBAED6" />
<text x="496.70" y="318.50" font-size="7.4" text-anchor="start" fill="#1a1a1a" font-weight="normal" >Family Didymellaceae,</text>
<text x="496.70" y="327.50" font-size="7.4" text-anchor="start" fill="#1a1a1a" font-weight="normal" >unclassified</text>
<rect x="488.40" y="331.20" width="6.10" height="5.80" fill="#EDBA86" />
<text x="496.70" y="336.60" font-size="7.4" text-anchor="start" fill="#1a1a1a" font-weight="normal" >Pleosporales</text>
<text x="496.70" y="345.60" font-size="7.4" text-anchor="start" fill="#1a1a1a" font-weight="normal" >genus Incertae sedis</text>
<rect x="488.40" y="352.10" width="6.10" height="5.80" fill="#F0F59C" />
<text x="496.70" y="357.50" font-size="7.4" text-anchor="start" fill="#1a1a1a" font-weight="normal" >Symmetrospora</text>
<rect x="587.00" y="225.90" width="6.30" height="5.80" fill="#4A71B5" />
<text x="595.30" y="231.40" font-size="7.4" text-anchor="start" fill="#1a1a1a" font-weight="normal" >Cadophora</text>
<rect x="587.00" y="234.00" width="6.30" height="5.80" fill="#E2338A" />
<text x="595.30" y="239.50" font-size="7.4" text-anchor="start" fill="#1a1a1a" font-weight="normal" >Dimorphoma</text>
<rect x="587.00" y="242.10" width="6.30" height="5.80" fill="#C2622C" />
<text x="595.30" y="247.60" font-size="7.4" text-anchor="start" fill="#1a1a1a" font-weight="normal" >Verticillium</text>
<rect x="587.00" y="250.10" width="6.30" height="5.80" fill="#6A6A6A" />
<text x="595.30" y="255.60" font-size="7.4" text-anchor="start" fill="#1a1a1a" font-weight="normal" >Trichomerium</text>
<rect x="587.00" y="258.10" width="6.30" height="5.80" fill="#86CF86" />
<text x="595.30" y="263.60" font-size="7.4" text-anchor="start" fill="#1a1a1a" font-weight="normal" >Blastobotrys</text>
<rect x="587.00" y="266.20" width="6.30" height="5.80" fill="#BBAED6" />
<text x="595.30" y="271.70" font-size="7.4" text-anchor="start" fill="#1a1a1a" font-weight="normal" >Dothiora</text>
<rect x="587.00" y="274.20" width="6.30" height="5.80" fill="#EDBA86" />
<text x="595.30" y="279.70" font-size="7.4" text-anchor="start" fill="#1a1a1a" font-weight="normal" >Order Saccharomycetales,</text>
<text x="595.30" y="288.80" font-size="7.4" text-anchor="start" fill="#1a1a1a" font-weight="normal" >unclassified</text>
<rect x="587.00" y="292.60" width="6.30" height="5.80" fill="#F0F59C" />
<text x="595.30" y="298.10" font-size="7.4" text-anchor="start" fill="#1a1a1a" font-weight="normal" >Apiotrichum</text>
<rect x="587.00" y="300.90" width="6.30" height="5.80" fill="#4A71B5" />
<text x="595.30" y="306.40" font-size="7.4" text-anchor="start" fill="#1a1a1a" font-weight="normal" >Aureobasidium</text>
<rect x="587.00" y="309.50" width="6.30" height="5.80" fill="#E2338A" />
<text x="595.30" y="315.00" font-size="7.4" text-anchor="start" fill="#1a1a1a" font-weight="normal" >Idriella</text>
<rect x="587.00" y="318.50" width="6.30" height="5.80" fill="#C2622C" />
<text x="595.30" y="324.00" font-size="7.4" text-anchor="start" fill="#1a1a1a" font-weight="normal" >Aspergillus</text>
<rect x="587.00" y="328.30" width="6.30" height="5.80" fill="#6A6A6A" />
<text x="595.30" y="333.80" font-size="7.4" text-anchor="start" fill="#1a1a1a" font-weight="normal" >Ascomycota,</text>
<text x="595.30" y="342.90" font-size="7.4" text-anchor="start" fill="#1a1a1a" font-weight="normal" >unclassified</text>
<rect x="587.00" y="346.10" width="6.30" height="5.80" fill="#86CF86" />
<text x="595.30" y="351.60" font-size="7.4" text-anchor="start" fill="#1a1a1a" font-weight="normal" >Debaryomyces</text>
<rect x="587.00" y="355.60" width="6.30" height="5.80" fill="#BBAED6" />
<text x="595.30" y="361.10" font-size="7.4" text-anchor="start" fill="#1a1a1a" font-weight="normal" >Plectosphaerellaceae</text>
<text x="595.30" y="370.20" font-size="7.4" text-anchor="start" fill="#1a1a1a" font-weight="normal" >genus Incertae sedis</text>
<text x="162.30" y="364.60" font-size="16" text-anchor="start" fill="#111" font-weight="normal" style="stroke:none">e</text>
<rect x="186.5" y="358.5" width="116" height="95.2" fill="none" stroke="#5a5a5a" stroke-width="1.1"/>
<line x1="182.90" y1="380.50" x2="186.50" y2="380.50" stroke="#333333" stroke-width="1.0"/>
<text x="181.90" y="382.60" font-size="7.5" text-anchor="end" fill="#222" font-weight="normal" >0.2</text>
<line x1="182.90" y1="406.50" x2="186.50" y2="406.50" stroke="#333333" stroke-width="1.0"/>
<text x="181.90" y="409.50" font-size="7.5" text-anchor="end" fill="#222" font-weight="normal" >0.0</text>
<line x1="182.90" y1="433.50" x2="186.50" y2="433.50" stroke="#333333" stroke-width="1.0"/>
<text x="181.90" y="436.10" font-size="7.5" text-anchor="end" fill="#222" font-weight="normal" >−0.2</text>
<line x1="208.50" y1="453.70" x2="208.50" y2="457.20" stroke="#333333" stroke-width="1.0"/>
<text x="209.00" y="464.80" font-size="7.5" text-anchor="middle" fill="#222" font-weight="normal" >−0.2</text>
<line x1="229.50" y1="453.70" x2="229.50" y2="457.20" stroke="#333333" stroke-width="1.0"/>
<text x="229.50" y="464.80" font-size="7.5" text-anchor="middle" fill="#222" font-weight="normal" >0.0</text>
<line x1="249.50" y1="453.70" x2="249.50" y2="457.20" stroke="#333333" stroke-width="1.0"/>
<text x="250.10" y="464.80" font-size="7.5" text-anchor="middle" fill="#222" font-weight="normal" >0.2</text>
<line x1="270.50" y1="453.70" x2="270.50" y2="457.20" stroke="#333333" stroke-width="1.0"/>
<text x="271.00" y="464.80" font-size="7.5" text-anchor="middle" fill="#222" font-weight="normal" >0.4</text>
<line x1="291.50" y1="453.70" x2="291.50" y2="457.20" stroke="#333333" stroke-width="1.0"/>
<text x="291.50" y="464.80" font-size="7.5" text-anchor="middle" fill="#222" font-weight="normal" >0.6</text>
<text x="247.40" y="476.40" font-size="7.3" text-anchor="middle" fill="#1a1a1a" font-weight="normal" >PC1 [71.6%]</text>
<text transform="translate(165.60,409.20) rotate(-90)" font-size="7.3" text-anchor="middle" fill="#1a1a1a">PC2  [25.4%]</text>
<circle cx="197.1" cy="362.6" r="3.0" fill="#F08080" fill-opacity="0.28"/>
<circle cx="197.1" cy="362.6" r="1.44" fill="#E85050" fill-opacity="0.75"/>
<circle cx="196.7" cy="365.0" r="3.0" fill="#F08080" fill-opacity="0.28"/>
<circle cx="196.7" cy="365.0" r="1.44" fill="#E85050" fill-opacity="0.75"/>
<circle cx="195.8" cy="371.3" r="3.0" fill="#F08080" fill-opacity="0.28"/>
<circle cx="195.8" cy="371.3" r="1.44" fill="#E85050" fill-opacity="0.75"/>
<circle cx="198.3" cy="448.3" r="3.2" fill="#3CC43C" fill-opacity="0.28"/>
<circle cx="198.3" cy="448.3" r="1.536" fill="#30B830" fill-opacity="0.75"/>
<circle cx="199.0" cy="449.0" r="3.0" fill="#3CC43C" fill-opacity="0.28"/>
<circle cx="199.0" cy="449.0" r="1.44" fill="#30B830" fill-opacity="0.75"/>
<circle cx="291.9" cy="406.0" r="3.3" fill="#7F9FE0" fill-opacity="0.28"/>
<circle cx="291.9" cy="406.0" r="1.5839999999999999" fill="#6A8AD8" fill-opacity="0.75"/>
<circle cx="292.2" cy="406.3" r="3.0" fill="#7F9FE0" fill-opacity="0.28"/>
<circle cx="292.2" cy="406.3" r="1.44" fill="#6A8AD8" fill-opacity="0.75"/>
<rect x="254.4" y="360.6" width="45.3" height="33.8" fill="#fff" stroke="#222" stroke-width="0.9"/>
<text x="255.60" y="368.20" font-size="7.3" text-anchor="start" fill="#1a1a1a" font-weight="normal" >Sample</text>
<circle cx="258.8" cy="374.4" r="3.0" fill="#F08080" fill-opacity="0.28"/>
<circle cx="258.8" cy="374.4" r="1.44" fill="#E04848" fill-opacity="0.75"/>
<text x="264.00" y="377.00" font-size="7.4" text-anchor="start" fill="#1a1a1a" font-weight="normal" >Biofilm</text>
<circle cx="258.8" cy="381.3" r="3.0" fill="#3CC43C" fill-opacity="0.28"/>
<circle cx="258.8" cy="381.3" r="1.44" fill="#22AA22" fill-opacity="0.75"/>
<text x="264.00" y="383.90" font-size="7.4" text-anchor="start" fill="#1a1a1a" font-weight="normal" >Planktonic</text>
<circle cx="258.8" cy="389.0" r="3.0" fill="#7F9FE0" fill-opacity="0.28"/>
<circle cx="258.8" cy="389.0" r="1.44" fill="#5A7FD0" fill-opacity="0.75"/>
<text x="264.00" y="391.60" font-size="7.4" text-anchor="start" fill="#1a1a1a" font-weight="normal" >Saliva</text>
<text x="311.60" y="364.30" font-size="14.5" text-anchor="start" fill="#111" font-weight="normal" style="stroke:none">f</text>
<rect x="356.1" y="358.1" width="118.1" height="96.1" fill="none" stroke="#777" stroke-width="1.4"/>
<line x1="352.40" y1="376.50" x2="356.10" y2="376.50" stroke="#333333" stroke-width="1.0"/>
<text x="351.00" y="377.85" font-size="7.3" text-anchor="end" fill="#222" font-weight="normal" >0.50</text>
<line x1="352.40" y1="400.50" x2="356.10" y2="400.50" stroke="#333333" stroke-width="1.0"/>
<text x="351.00" y="401.90" font-size="7.3" text-anchor="end" fill="#222" font-weight="normal" >0.25</text>
<line x1="352.40" y1="425.50" x2="356.10" y2="425.50" stroke="#333333" stroke-width="1.0"/>
<text x="351.00" y="426.70" font-size="7.3" text-anchor="end" fill="#222" font-weight="normal" >0.00</text>
<line x1="352.40" y1="449.50" x2="356.10" y2="449.50" stroke="#333333" stroke-width="1.0"/>
<text x="351.00" y="450.60" font-size="7.3" text-anchor="end" fill="#222" font-weight="normal" >−0.25</text>
<line x1="355.50" y1="454.20" x2="355.50" y2="457.80" stroke="#333333" stroke-width="1.0"/>
<text x="355.70" y="465.60" font-size="7.3" text-anchor="middle" fill="#222" font-weight="normal" >−0.6</text>
<line x1="379.50" y1="454.20" x2="379.50" y2="457.80" stroke="#333333" stroke-width="1.0"/>
<text x="379.20" y="465.60" font-size="7.3" text-anchor="middle" fill="#222" font-weight="normal" >−0.4</text>
<line x1="403.50" y1="454.20" x2="403.50" y2="457.80" stroke="#333333" stroke-width="1.0"/>
<text x="403.40" y="465.60" font-size="7.3" text-anchor="middle" fill="#222" font-weight="normal" >−0.2</text>
<line x1="427.50" y1="454.20" x2="427.50" y2="457.80" stroke="#333333" stroke-width="1.0"/>
<text x="427.50" y="465.60" font-size="7.3" text-anchor="middle" fill="#222" font-weight="normal" >0.0</text>
<line x1="451.50" y1="454.20" x2="451.50" y2="457.80" stroke="#333333" stroke-width="1.0"/>
<text x="451.40" y="465.60" font-size="7.3" text-anchor="middle" fill="#222" font-weight="normal" >0.2</text>
<text x="417.70" y="477.20" font-size="7.3" text-anchor="middle" fill="#1a1a1a" font-weight="normal" >PC1 [43 %]</text>
<text transform="translate(331.30,405.00) rotate(-90)" font-size="7.4" text-anchor="middle" fill="#1a1a1a">PC2  [20%]</text>
<circle cx="410.0" cy="362.0" r="2.9" fill="#9AD895"/>
<circle cx="382.4" cy="410.2" r="2.9" fill="#A8BCE6"/>
<circle cx="360.8" cy="445.0" r="2.9" fill="#A8BCE6"/>
<circle cx="368.0" cy="450.0" r="2.9" fill="#A8BCE6"/>
<circle cx="469.2" cy="423.5" r="2.9" fill="#E88A88"/>
<circle cx="454.5" cy="436.8" r="2.9" fill="#EBA8A6"/>
<circle cx="466.6" cy="436.8" r="2.9" fill="#8AD488"/>
<circle cx="468.0" cy="436.8" r="2.9" fill="#6CCB6A"/>
<rect x="426.3" y="360.0" width="45.2" height="33.75" fill="#fff" stroke="#333" stroke-width="0.8"/>
<text x="427.80" y="367.90" font-size="7.3" text-anchor="start" fill="#1a1a1a" font-weight="normal" >Sample</text>
<circle cx="431.9" cy="374.0" r="2.9" fill="#EBA8A6"/>
<text x="436.50" y="376.60" font-size="7.4" text-anchor="start" fill="#1a1a1a" font-weight="normal" >Biofilm</text>
<circle cx="431.9" cy="381.4" r="2.9" fill="#9AD895"/>
<text x="436.50" y="384.00" font-size="7.4" text-anchor="start" fill="#1a1a1a" font-weight="normal" >Planktonic</text>
<circle cx="431.9" cy="389.1" r="2.9" fill="#A8BCE6"/>
<text x="436.50" y="391.70" font-size="7.4" text-anchor="start" fill="#1a1a1a" font-weight="normal" >Saliva</text>
</svg>
</body></html>
